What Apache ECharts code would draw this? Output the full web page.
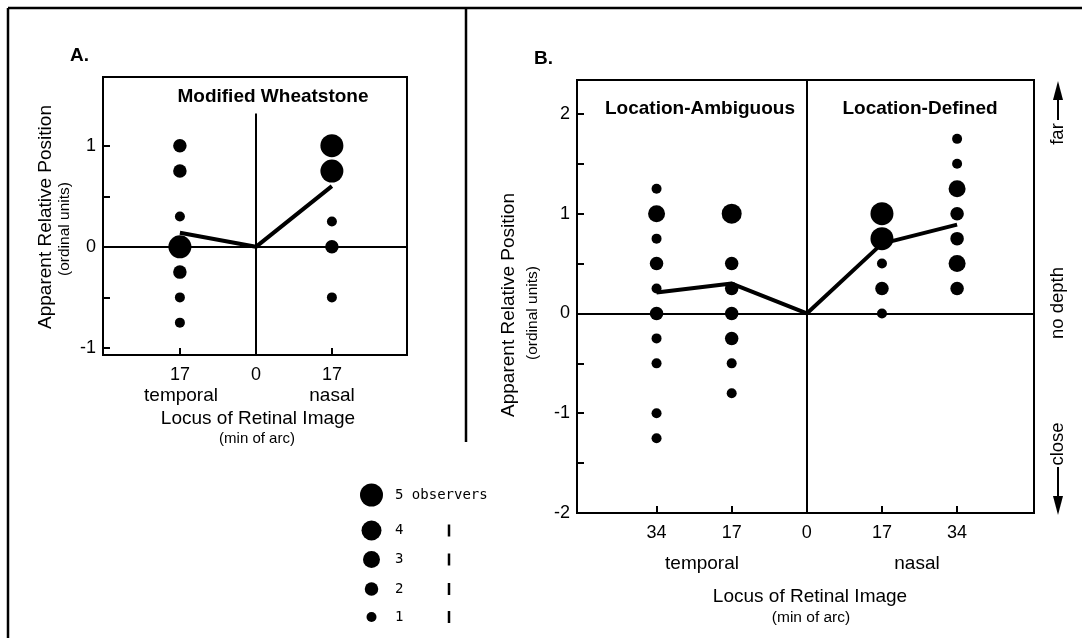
<!DOCTYPE html>
<html>
<head>
<meta charset="utf-8">
<script src="https://cdn.jsdelivr.net/npm/echarts@6/dist/echarts.min.js"></script>
<style>
html,body{margin:0;padding:0;background:#fff;}
#c{width:1082px;height:638px;}
</style>
</head>
<body>
<div id="c"></div>
<script>
// ---------------- Panel A (Modified Wheatstone) ----------------
const A_X_TICKS = [-17, 0, 17];
const A_X_LABELS = ['17', '0', '17'];
const A_Y_TICKS = [-1, -0.5, 0, 0.5, 1];
const A_Y_LABELS = [-1, 0, 1];
const A_TEMPORAL17_Y = [1, 0.75, 0.3, 0, -0.25, -0.5, -0.75];
const A_TEMPORAL17_N = [2, 2, 1, 5, 2, 1, 1];
const A_NASAL17_Y = [1, 0.75, 0.25, 0, -0.5];
const A_NASAL17_N = [5, 5, 1, 2, 1];
const A_MEAN_X = [-17, 0, 17];
const A_MEAN_Y = [0.14, 0, 0.6];

// ---------------- Panel B (Location-Ambiguous / Location-Defined) ----------------
const B_X_TICKS = [-34, -17, 0, 17, 34];
const B_X_LABELS = ['34', '17', '0', '17', '34'];
const B_Y_TICKS = [-2, -1.5, -1, -0.5, 0, 0.5, 1, 1.5, 2];
const B_Y_LABELS = [-2, -1, 0, 1, 2];
const B_TEMPORAL34_Y = [1.25, 1, 0.75, 0.5, 0.25, 0, -0.25, -0.5, -1, -1.25];
const B_TEMPORAL34_N = [1, 3, 1, 2, 1, 2, 1, 1, 1, 1];
const B_TEMPORAL17_Y = [1, 0.5, 0.25, 0, -0.25, -0.5, -0.8];
const B_TEMPORAL17_N = [4, 2, 2, 2, 2, 1, 1];
const B_NASAL17_Y = [1, 0.75, 0.5, 0.25, 0];
const B_NASAL17_N = [5, 5, 1, 2, 1];
const B_NASAL34_Y = [1.75, 1.5, 1.25, 1, 0.75, 0.5, 0.25];
const B_NASAL34_N = [1, 1, 3, 2, 2, 3, 2];
const B_MEAN_X = [-34, -17, 0, 17, 34];
const B_MEAN_Y = [0.21, 0.3, 0, 0.7, 0.89];

// ---------------- Legend ----------------
const LEGEND_COUNTS = [5, 4, 3, 2, 1];

// ---------------- styling ----------------
const FONT = '"Liberation Sans", Arial, Helvetica, sans-serif';
const MONO = '"DejaVu Sans Mono", monospace';
const DOT_SIZE = [0, 10, 13.5, 17, 20, 23];
const A_RANGE = {xmin: -34.2, xmax: 33.8, ymin: -1.07, ymax: 1.68, vtop: 1.32};
const B_RANGE = {xmin: -52, xmax: 51.4, ymin: -2, ymax: 2.34};

function column(x, ys, ns) { return ys.map((y, i) => [x, y, ns[i]]); }
function pairs(xs, ys) { return xs.map((x, i) => [x, ys[i]]); }
function lookup(ticks, labels) {
  return v => { const i = ticks.findIndex(t => Math.abs(t - v) < 1e-6); return i >= 0 ? String(labels[i]) : ''; };
}

function xAxisDef(gi, r, ticks, labels) {
  return {
    type: 'value', gridIndex: gi, min: r.xmin, max: r.xmax, position: 'bottom',
    splitLine: {show: false}, axisLine: {show: false, onZero: false},
    axisTick: {show: true, inside: true, length: 7, customValues: ticks, lineStyle: {color: '#000', width: 2}},
    axisLabel: {customValues: ticks, formatter: lookup(ticks, labels), color: '#000', fontSize: 18, fontFamily: FONT, margin: 11}
  };
}
function yAxisDef(gi, r, ticks, labels) {
  return {
    type: 'value', gridIndex: gi, min: r.ymin, max: r.ymax, position: 'left',
    splitLine: {show: false}, axisLine: {show: false, onZero: false},
    axisTick: {show: true, inside: true, length: 7, customValues: ticks, lineStyle: {color: '#000', width: 2}},
    axisLabel: {customValues: labels, formatter: v => String(v), color: '#000', fontSize: 18, fontFamily: FONT, margin: 7}
  };
}

const zeroLineStyle = {color: '#000', width: 2, type: 'solid'};
function scatterSeries(gi, data, markData) {
  return {
    type: 'scatter', xAxisIndex: gi, yAxisIndex: gi, data: data,
    symbol: 'circle', symbolSize: v => DOT_SIZE[v[2]],
    itemStyle: {color: '#000', opacity: 1}, silent: true, z: 3,
    markLine: {silent: true, symbol: ['none', 'none'], label: {show: false}, lineStyle: zeroLineStyle,
      emphasis: {disabled: true}, animation: false, data: markData}
  };
}
function meanSeries(gi, data) {
  return {
    type: 'line', xAxisIndex: gi, yAxisIndex: gi, data: data, symbol: 'none',
    lineStyle: {color: '#000', width: 4}, silent: true, z: 4
  };
}

function T(text, x, y, o) {
  o = o || {};
  return {
    type: 'text', x: x, y: y, rotation: o.rot || 0, z: 10, silent: true,
    style: {
      text: text, fill: '#000', fontFamily: o.family || FONT, fontSize: o.size || 19,
      fontWeight: o.bold ? 'bold' : 'normal', align: o.align || 'center', verticalAlign: 'middle'
    }
  };
}
function L(x1, y1, x2, y2, w) {
  return {type: 'line', silent: true, z: 10, shape: {x1, y1, x2, y2}, style: {stroke: '#000', lineWidth: w || 2}};
}
function P(points) {
  return {type: 'polygon', silent: true, z: 10, shape: {points: points}, style: {fill: '#000'}};
}

const R90 = Math.PI / 2;
const graphics = [
  // frame
  L(8, 8, 1082, 8, 2.5), L(8, 8, 8, 638, 2.5), L(466, 8, 466, 442, 2.5),
  // panel A texts
  T('A.', 70, 56, {bold: true, align: 'left'}),
  T('Modified Wheatstone', 273, 97, {bold: true}),
  T('temporal', 181, 396), T('nasal', 332, 396),
  T('Locus of Retinal Image', 258, 419),
  T('(min of arc)', 257, 439, {size: 15}),
  T('Apparent Relative Position', 45.5, 217, {rot: R90}),
  T('(ordinal units)', 64.5, 229, {rot: R90, size: 15.5}),
  // panel B texts
  T('B.', 534, 59, {bold: true, align: 'left'}),
  T('Location-Ambiguous', 700, 109, {bold: true}),
  T('Location-Defined', 920, 109, {bold: true}),
  T('temporal', 702, 564), T('nasal', 917, 564),
  T('Locus of Retinal Image', 810, 597),
  T('(min of arc)', 811, 618, {size: 15.5}),
  T('Apparent Relative Position', 509, 305, {rot: R90}),
  T('(ordinal units)', 533, 313, {rot: R90, size: 15.5}),
  // right-side depth labels and arrows
  T('far', 1058, 134, {rot: R90, size: 18.5}),
  L(1058, 120, 1058, 98, 2), P([[1058, 81], [1053, 100], [1063, 100]]),
  T('no depth', 1058, 303, {rot: R90, size: 18.5}),
  T('close', 1058, 444, {rot: R90, size: 18.5}),
  L(1058, 467, 1058, 497, 2), P([[1058, 515], [1053, 496], [1063, 496]])
];

// legend
const LEG_Y = [495, 530.5, 559.5, 589, 617];
LEGEND_COUNTS.forEach((n, i) => {
  graphics.push({type: 'circle', silent: true, z: 10, shape: {cx: 371.5, cy: LEG_Y[i], r: DOT_SIZE[n] / 2}, style: {fill: '#000'}});
  graphics.push(T(i === 0 ? n + ' observers' : String(n), 395, LEG_Y[i], {family: MONO, size: 14, align: 'left'}));
  if (i > 0) graphics.push(L(449, LEG_Y[i] - 6, 449, LEG_Y[i] + 6, 2.5));
});

const option = {
  backgroundColor: '#fff',
  animation: false,
  grid: [
    {left: 103, top: 77, width: 304, height: 278, show: true, borderColor: '#000', borderWidth: 2, backgroundColor: 'transparent'},
    {left: 577, top: 80, width: 457, height: 433, show: true, borderColor: '#000', borderWidth: 2, backgroundColor: 'transparent'}
  ],
  xAxis: [xAxisDef(0, A_RANGE, A_X_TICKS, A_X_LABELS), xAxisDef(1, B_RANGE, B_X_TICKS, B_X_LABELS)],
  yAxis: [yAxisDef(0, A_RANGE, A_Y_TICKS, A_Y_LABELS), yAxisDef(1, B_RANGE, B_Y_TICKS, B_Y_LABELS)],
  series: [
    scatterSeries(0,
      column(-17, A_TEMPORAL17_Y, A_TEMPORAL17_N).concat(column(17, A_NASAL17_Y, A_NASAL17_N)),
      [{yAxis: 0}, [{coord: [0, A_RANGE.ymin]}, {coord: [0, A_RANGE.vtop]}]]),
    meanSeries(0, pairs(A_MEAN_X, A_MEAN_Y)),
    scatterSeries(1,
      column(-34, B_TEMPORAL34_Y, B_TEMPORAL34_N)
        .concat(column(-17, B_TEMPORAL17_Y, B_TEMPORAL17_N))
        .concat(column(17, B_NASAL17_Y, B_NASAL17_N))
        .concat(column(34, B_NASAL34_Y, B_NASAL34_N)),
      [{yAxis: 0}, {xAxis: 0}]),
    meanSeries(1, pairs(B_MEAN_X, B_MEAN_Y))
  ],
  graphic: graphics
};

const chart = echarts.init(document.getElementById('c'), null, {renderer: 'canvas'});
chart.setOption(option);
</script>
</body>
</html>
